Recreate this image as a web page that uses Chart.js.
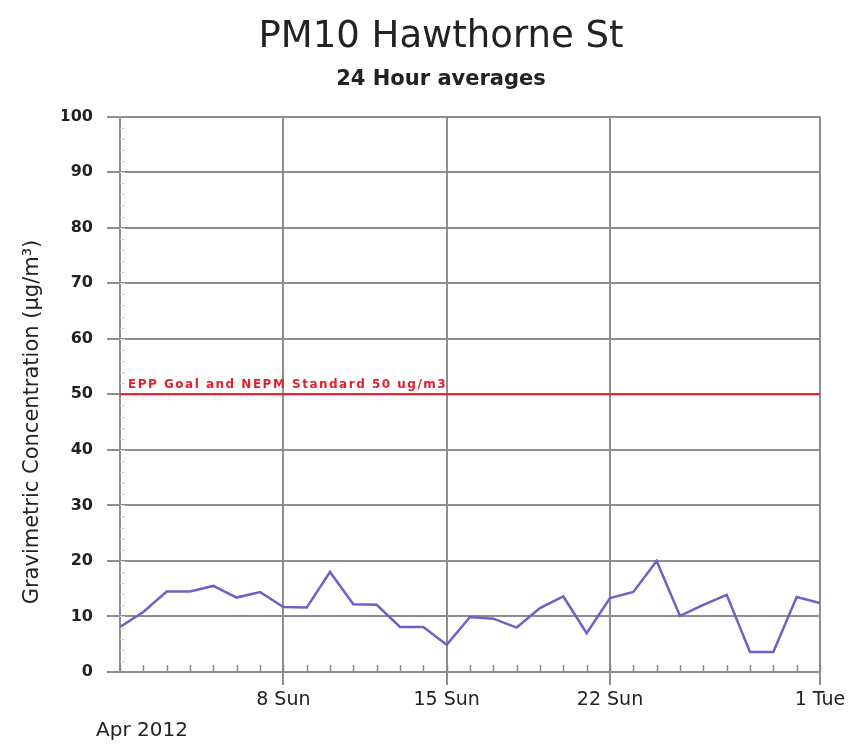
<!DOCTYPE html>
<html>
<head>
<meta charset="utf-8">
<title>PM10 Hawthorne St</title>
<script src="https://cdn.jsdelivr.net/npm/chart.js@4"></script>
<style>
  body { margin: 0; background: #fff; }
  canvas { display: block; }
</style>
</head>
<body>
<canvas id="chart" width="863" height="747"></canvas>
<script>
// day of April 2012 (31 = 1 May)
const days = [1, 2, 3, 4, 5, 6, 7, 8, 9, 10, 11, 12, 13, 14, 15, 16, 17, 18, 19, 20,
  21, 22, 23, 24, 25, 26, 27, 28, 29, 30, 31];
// 24 hour average PM10, ug/m3
const pm10 = [8.1, 10.8, 14.5, 14.5, 15.5, 13.4, 14.4, 11.7, 11.6, 18.0, 12.2, 12.1, 8.1, 8.1, 4.9,
  9.9, 9.6, 8.0, 11.5, 13.6, 7.0, 13.3, 14.4, 20.0, 10.1, 12.1, 13.9, 3.6, 3.6, 13.5, 12.4];
const tickDays = [8, 15, 22, 31];
const tickLabels = ['8 Sun', '15 Sun', '22 Sun', '1 Tue'];
const monthLabel = 'Apr 2012';
const standard = 50;
const standardLabel = 'EPP Goal and NEPM Standard 50 ug/m3';
const yTitle = 'Gravimetric Concentration (\u00b5g/m\u00b3)';

const gridColor = '#8e8e8e';
const textColor = '#222';

// minor ticks, the standard's caption, axis title and month label
const extras = {
  id: 'extras',
  beforeDatasetsDraw(chart) {
    const {ctx, scales: {x, y}} = chart;
    const y0 = y.getPixelForValue(0);
    const xLeft = x.getPixelForValue(days[0]);
    ctx.save();
    ctx.lineWidth = 1.5;
    ctx.strokeStyle = '#8a8a8a';
    days.forEach(d => {
      const px = Math.round(x.getPixelForValue(d)) + 0.5;
      ctx.beginPath();
      ctx.moveTo(px, y0);
      ctx.lineTo(px, y0 - 7);
      ctx.stroke();
    });
    ctx.strokeStyle = '#d6d6d6';
    ctx.lineWidth = 1;
    for (let v = 2; v < 100; v += 2) {
      const py = Math.round(y.getPixelForValue(v)) + 0.5;
      ctx.beginPath();
      ctx.moveTo(xLeft, py);
      ctx.lineTo(xLeft + 5, py);
      ctx.stroke();
    }
    ctx.restore();
  },
  afterDatasetsDraw(chart) {
    const {ctx, scales: {x, y}, chartArea} = chart;
    ctx.save();
    ctx.fillStyle = '#e0202a';
    ctx.font = 'bold 12px "DejaVu Sans"';
    ctx.letterSpacing = '1.5px';
    ctx.textBaseline = 'alphabetic';
    ctx.fillText(standardLabel, chartArea.left + 8, y.getPixelForValue(standard) - 6);
    ctx.letterSpacing = '0px';

    ctx.fillStyle = textColor;
    ctx.font = '20px "DejaVu Sans"';
    ctx.textAlign = 'left';
    ctx.textBaseline = 'middle';
    ctx.fillText(monthLabel, 96, 731);

    ctx.translate(33, 422);
    ctx.rotate(-Math.PI / 2);
    ctx.textAlign = 'center';
    ctx.font = '21px "DejaVu Sans"';
    ctx.fillText(yTitle, 0, 0);
    ctx.restore();
  }
};

new Chart(document.getElementById('chart'), {
  type: 'line',
  data: {
    datasets: [
      {
        label: 'PM10',
        data: days.map((d, i) => ({x: d, y: pm10[i]})),
        borderColor: '#6a62c8',
        borderWidth: 2.5,
        pointRadius: 0,
        tension: 0
      },
      {
        label: 'Standard',
        data: [{x: days[0], y: standard}, {x: days[days.length - 1], y: standard}],
        borderColor: '#e0202a',
        borderWidth: 2,
        pointRadius: 0
      }
    ]
  },
  options: {
    responsive: false,
    animation: false,
    layout: { padding: { left: 62, right: 43 } },
    plugins: {
      legend: { display: false },
      tooltip: { enabled: false },
      title: {
        display: true,
        text: 'PM10 Hawthorne St',
        color: textColor,
        font: { family: 'DejaVu Sans', size: 37, weight: 'normal', lineHeight: 1.2 },
        padding: { top: 15, bottom: 8 }
      },
      subtitle: {
        display: true,
        text: '24 Hour averages',
        color: textColor,
        font: { family: 'DejaVu Sans', size: 21, weight: 'bold', lineHeight: 1.2 },
        padding: { top: 0, bottom: 24 }
      }
    },
    scales: {
      x: {
        type: 'linear',
        min: days[0],
        max: days[days.length - 1],
        afterBuildTicks: scale => { scale.ticks = tickDays.map(v => ({value: v})); },
        afterFit: scale => { scale.height = 75; },
        ticks: {
          autoSkip: false,
          maxRotation: 0,
          padding: 4,
          color: textColor,
          font: { family: 'DejaVu Sans', size: 19 },
          callback: v => tickLabels[tickDays.indexOf(v)]
        },
        grid: { color: gridColor, lineWidth: 2, tickLength: 13 },
        border: { display: false }
      },
      y: {
        min: 0,
        max: 100,
        afterFit: scale => { scale.width = 58; },
        ticks: {
          stepSize: 10,
          padding: 14,
          color: textColor,
          font: { family: 'DejaVu Sans', size: 16, weight: 'bold' }
        },
        grid: { color: gridColor, lineWidth: 2, tickLength: 13 },
        border: { display: true, color: gridColor, width: 2 }
      }
    }
  },
  plugins: [extras]
});
</script>
</body>
</html>
